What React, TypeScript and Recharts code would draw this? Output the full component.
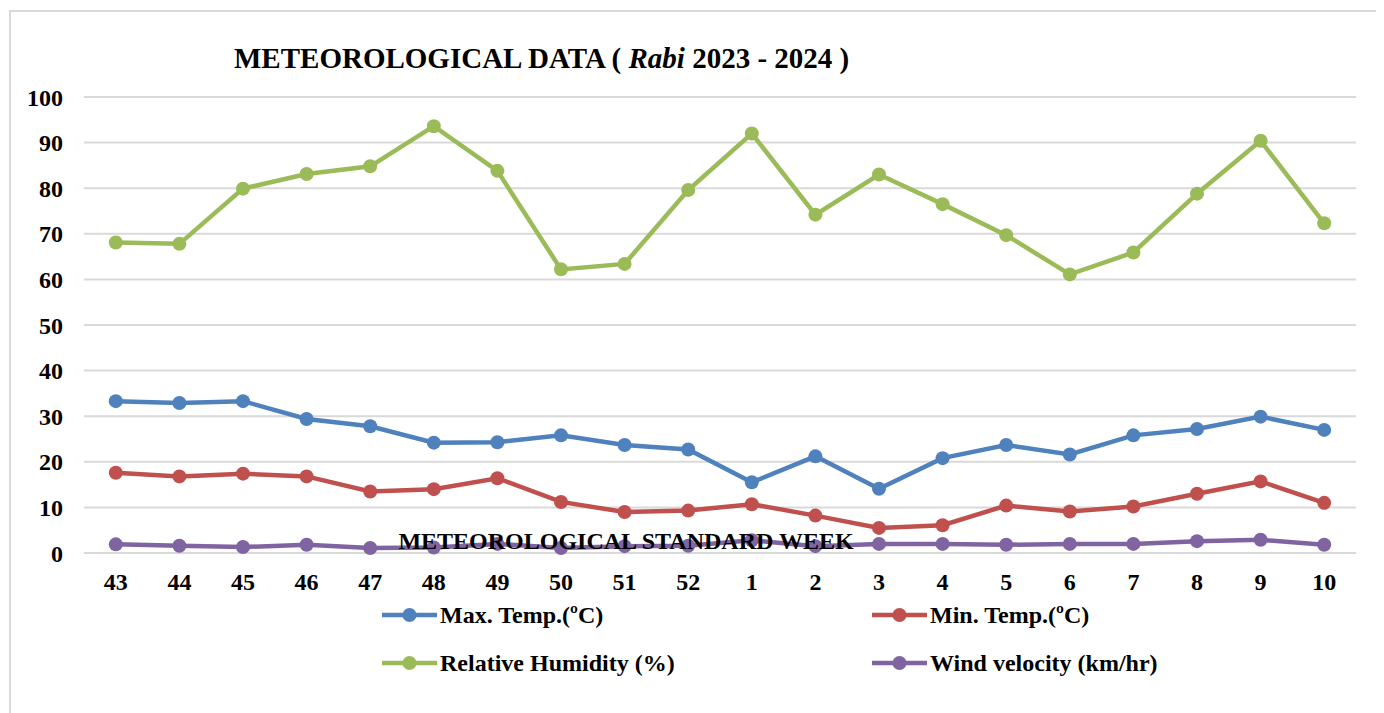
import { LineChart, Line, XAxis, YAxis, CartesianGrid } from 'recharts';

const weeks = ['43', '44', '45', '46', '47', '48', '49', '50', '51', '52', '1', '2', '3', '4', '5', '6', '7', '8', '9', '10'];
const maxTemp = [33.3, 32.9, 33.3, 29.4, 27.8, 24.2, 24.3, 25.8, 23.7, 22.7, 15.5, 21.2, 14.1, 20.8, 23.7, 21.6, 25.8, 27.2, 29.9, 27.0];
const minTemp = [17.6, 16.8, 17.4, 16.8, 13.5, 14.0, 16.4, 11.2, 9.0, 9.3, 10.7, 8.2, 5.5, 6.1, 10.4, 9.1, 10.2, 13.0, 15.7, 11.0];
const humidity = [68.1, 67.8, 79.9, 83.1, 84.8, 93.6, 83.8, 62.2, 63.4, 79.6, 92.0, 74.2, 83.0, 76.5, 69.7, 61.1, 65.9, 78.8, 90.4, 72.3];
const wind = [1.9, 1.6, 1.3, 1.8, 1.1, 1.2, 2.0, 1.1, 1.5, 1.6, 2.8, 1.5, 2.0, 2.0, 1.8, 2.0, 2.0, 2.6, 2.9, 1.8];
const yTicks = [0, 10, 20, 30, 40, 50, 60, 70, 80, 90, 100];

const series = [
  { key: 'maxTemp', name: 'Max. Temp.(ºC)', color: '#4F81BD' },
  { key: 'minTemp', name: 'Min. Temp.(ºC)', color: '#C0504D' },
  { key: 'humidity', name: 'Relative Humidity (%)', color: '#9BBB59' },
  { key: 'wind', name: 'Wind velocity (km/hr)', color: '#8064A2' },
];

const data = weeks.map((week, i) => ({
  week,
  maxTemp: maxTemp[i],
  minTemp: minTemp[i],
  humidity: humidity[i],
  wind: wind[i],
}));

const FONT = "'Liberation Serif', 'Times New Roman', serif";
const tickStyle = { fill: '#000', fontSize: 24, fontWeight: 700, fontFamily: FONT };

// legend slots: two columns, two rows
const legendCols = [374, 864];
const legendRows = [607, 655];

const App = () => {
  return (
    <div style={{ position: 'relative', width: 1376, height: 705, overflow: 'hidden', background: '#fff' }}>
      <div
        style={{
          position: 'absolute',
          left: 1,
          top: 2,
          width: 1420,
          height: 800,
          border: '2px solid #d9d9d9',
          boxSizing: 'border-box',
        }}
      />
      <LineChart
        width={1376}
        height={705}
        data={data}
        margin={{ top: 89, right: 28, left: 0, bottom: 120 }}
        style={{ position: 'absolute', left: 0, top: 0 }}
      >
        <CartesianGrid vertical={false} stroke="#d9d9d9" strokeWidth={2} />
        <XAxis
          dataKey="week"
          scale="band"
          interval={0}
          height={40}
          axisLine={{ stroke: '#d9d9d9', strokeWidth: 2 }}
          tickLine={false}
          tickSize={6}
          tickMargin={14}
          tick={tickStyle}
        />
        <YAxis
          domain={[0, 100]}
          ticks={yTicks}
          interval={0}
          width={76}
          axisLine={false}
          tickLine={false}
          tickSize={6}
          tickMargin={15}
          tick={tickStyle}
        />
        {series.map((s) => (
          <Line
            key={s.key}
            type="linear"
            dataKey={s.key}
            name={s.name}
            stroke={s.color}
            strokeWidth={4.5}
            dot={{ r: 7, fill: s.color, stroke: s.color, strokeWidth: 0 }}
            activeDot={false}
            isAnimationActive={false}
          />
        ))}
      </LineChart>
      <svg
        width={1376}
        height={705}
        style={{ position: 'absolute', left: 0, top: 0, pointerEvents: 'none' }}
        fontFamily={FONT}
        fontWeight={700}
      >
        <text x={226} y={59.5} fontSize={29} fill="#000">
          METEOROLOGICAL DATA ( <tspan fontStyle="italic">Rabi</tspan> 2023 - 2024 )
        </text>
        <text x={618} y={541} fontSize={24} fill="#000" textAnchor="middle">
          METEOROLOGICAL STANDARD WEEK
        </text>
        {series.map((s, i) => {
          const x = legendCols[i % 2];
          const y = legendRows[Math.floor(i / 2)];
          return (
            <g key={s.key}>
              <line x1={x} y1={y} x2={x + 55} y2={y} stroke={s.color} strokeWidth={4.5} />
              <circle cx={x + 27.5} cy={y} r={7} fill={s.color} />
              <text x={x + 58} y={y + 8} fontSize={24} fill="#000">
                {s.name}
              </text>
            </g>
          );
        })}
      </svg>
    </div>
  );
};

export default App;
